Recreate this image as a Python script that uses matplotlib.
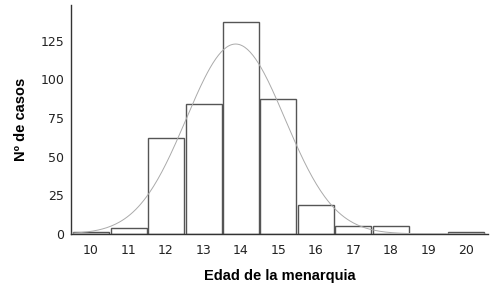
import numpy as np
import matplotlib.pyplot as plt

edades = np.array([10, 11, 12, 13, 14, 15, 16, 17, 18, 19, 20])
casos = np.array([1, 4, 62, 84, 137, 87, 19, 5, 5, 0, 1])
yticks = [0, 25, 50, 75, 100, 125]

# normal curve fitted to the data
n = casos.sum()
media = (edades * casos).sum() / n
sd = np.sqrt((casos * (edades - media) ** 2).sum() / (n - 1))
xs = np.linspace(9.5, 20.5, 300)
ys = n * 1.0 / (sd * np.sqrt(2 * np.pi)) * np.exp(-0.5 * ((xs - media) / sd) ** 2)

fig = plt.figure(figsize=(5.01, 2.95), dpi=100)
ax = fig.add_axes([0.142, 0.207, 0.833, 0.776])

ax.bar(edades, casos, width=0.96, color='white', edgecolor='#555555', linewidth=1.0, zorder=2)
ax.plot(xs, ys, color='#aaaaaa', linewidth=0.7, zorder=3)

ax.set_xlim(9.47, 20.6)
ax.set_ylim(0, 148)
ax.set_xticks(edades)
ax.set_yticks(yticks)
ax.tick_params(axis='both', length=0, labelsize=9, colors='#222222')
ax.tick_params(axis='x', pad=7)
ax.tick_params(axis='y', pad=5)
for s in ['top', 'right']:
    ax.spines[s].set_visible(False)
for s in ['left', 'bottom']:
    ax.spines[s].set_color('#333333')
    ax.spines[s].set_linewidth(1.0)

ax.set_xlabel("Edad de la menarquia", fontfamily='Liberation Sans', fontweight='bold', fontsize=10.5, labelpad=9)
ax.set_ylabel("Nº de casos", fontfamily='Liberation Sans', fontweight='bold', fontsize=10.5, labelpad=9)

fig.savefig("out.png", dpi=100)
